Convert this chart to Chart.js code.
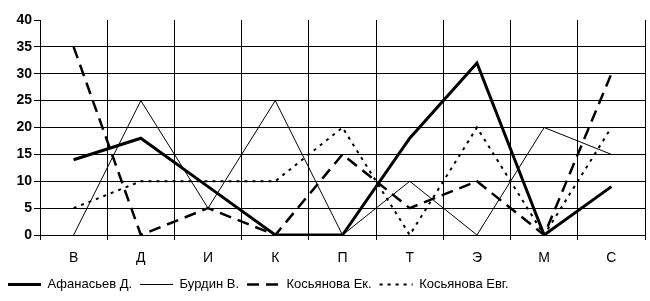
<!DOCTYPE html>
<html>
<head>
<meta charset="utf-8">
<script src="https://cdn.jsdelivr.net/npm/chart.js@4/dist/chart.umd.min.js"></script>
<style>
  html, body { margin: 0; padding: 0; background: #fff; }
  #wrap { width: 650px; height: 301px; }
</style>
</head>
<body>
<div id="wrap"><canvas id="grafico"></canvas></div>
<script>
// categorias y valores
var categorias = ["В", "Д", "И", "К", "П", "Т", "Э", "М", "С"];
var afanasiev = [14, 18, 9, 0, 0, 18, 32, 0, 9];
var burdin = [0, 25, 5, 25, 0, 10, 0, 20, 15];
var kosEk = [35, 0, 5, 0, 15, 5, 10, 0, 30];
var kosEvg = [5, 10, 10, 10, 20, 0, 20, 0, 20];
var ticksY = [0, 5, 10, 15, 20, 25, 30, 35, 40];

var fuente = "'Liberation Sans', Arial, sans-serif";

function serie(nombre, datos, ancho, guiones) {
    return {
        label: nombre,
        data: datos,
        borderColor: "#000",
        backgroundColor: "#000",
        borderWidth: ancho,
        borderDash: guiones,
        pointRadius: 0,
        pointStyle: "line",
        tension: 0,
        fill: false
    };
}

// la leyenda con pointStyle pierde los guiones, se ponen a mano
function etiquetas(chart) {
    return chart.data.datasets.map(function (ds, i) {
        return {
            text: ds.label,
            fillStyle: "#000",
            strokeStyle: "#000",
            fontColor: "#000",
            lineWidth: ds.borderWidth,
            lineDash: ds.borderDash,
            lineCap: "butt",
            pointStyle: "line",
            hidden: false,
            datasetIndex: i
        };
    });
}

var grafico = new Chart(document.getElementById("grafico"), {
    type: "line",
    data: {
        labels: categorias,
        datasets: [
            serie("Афанасьев Д.", afanasiev, 3, []),
            serie("Бурдин В.", burdin, 1, []),
            serie("Косьянова Ек.", kosEk, 2.5, [12, 7]),
            serie("Косьянова Евг.", kosEvg, 2, [3, 5])
        ]
    },
    options: {
        responsive: true,
        maintainAspectRatio: false,
        animation: false,
        layout: { padding: { top: 20, right: 5, left: 0, bottom: 0 } },
        plugins: {
            tooltip: { enabled: false },
            legend: {
                position: "bottom",
                align: "start",
                labels: {
                    usePointStyle: true,
                    pointStyleWidth: 33,
                    boxWidth: 33,
                    boxHeight: 13,
                    padding: 8,
                    color: "#000",
                    font: { family: fuente, size: 13 },
                    generateLabels: etiquetas
                }
            }
        },
        scales: {
            x: {
                offset: true,
                afterFit: function (s) { s.height = 35; },
                grid: {
                    offset: true,
                    color: function (ctx) {
                        return ctx.index === categorias.length ? "rgba(0,0,0,0)" : "#000";
                    },
                    tickColor: "#000",
                    tickLength: 5,
                    lineWidth: 1
                },
                border: { display: true, color: "#000", width: 1 },
                ticks: {
                    color: "#000",
                    padding: 10,
                    maxRotation: 0,
                    font: { family: fuente, size: 14 }
                }
            },
            y: {
                min: 0,
                max: 40,
                afterFit: function (s) { s.width = 40; },
                afterBuildTicks: function (s) {
                    s.ticks = ticksY.map(function (v) { return { value: v }; });
                },
                grid: {
                    color: function (ctx) {
                        return ctx.tick && ctx.tick.value === 40 ? "rgba(0,0,0,0)" : "#000";
                    },
                    tickColor: "#000",
                    tickLength: 6,
                    lineWidth: 1
                },
                border: { display: true, color: "#000", width: 1 },
                ticks: {
                    color: "#000",
                    padding: 2,
                    font: { family: fuente, size: 14, weight: "bold" }
                }
            }
        }
    }
});
</script>
</body>
</html>
